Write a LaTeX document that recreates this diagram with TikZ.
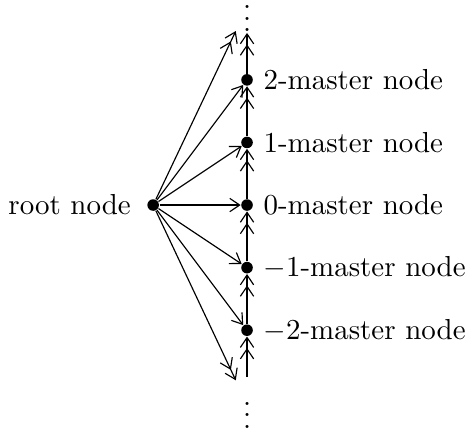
\documentclass[tikz,border=0pt]{standalone}
\usetikzlibrary{arrows.meta}
\begin{document}
\begin{tikzpicture}[x=0.76cm,y=0.76cm,
  >={Straight Barb[length=3.4pt,width=4.6pt,line width=0.4pt]}]
\tikzstyle{vertex}=[circle, fill, minimum size=4pt, inner sep=0pt]
\tikzstyle{master}=[vertex, label distance=2pt]
\useasboundingbox (-3.0cm,-2.76cm) rectangle (2.72cm,2.49cm);

\node[vertex, label={[label distance=2pt]left:root node}] (root) at (-1.5,0) {};
\node[master, label=right:$2$-master node] (m2) at (0,2) {};
\node[master, label=right:$1$-master node] (m1) at (0,1) {};
\node[master, label=right:$0$-master node] (m0) at (0,0) {};
\node[master, label=right:$-1$-master node] (mm1) at (0,-1) {};
\node[master, label=right:$-2$-master node] (mm2) at (0,-2) {};

\coordinate (top) at (0,2.75);
\coordinate (bot) at (0,-2.75);
\coordinate (up) at (-0.18,2.78);
\coordinate (down) at (-0.18,-2.8);
\node[inner sep=0pt] (vtop) at (0,3.12) {$\vdots$};
\node[inner sep=0pt] (vbot) at (0,-3.22) {$\vdots$};

\path[thick, ->>]
(bot) edge (mm2)
(mm2) edge (mm1)
(mm1) edge (m0)
(m0) edge (m1)
(m1) edge (m2)
(m2) edge (top);

\path[->]
(root) edge (m2)
       edge (m1)
       edge (mm1)
       edge (mm2);
\draw[thick, ->] (root) -- (m0);

\path[->>]
(root) edge (up)
       edge (down);

\end{tikzpicture}
\end{document}
